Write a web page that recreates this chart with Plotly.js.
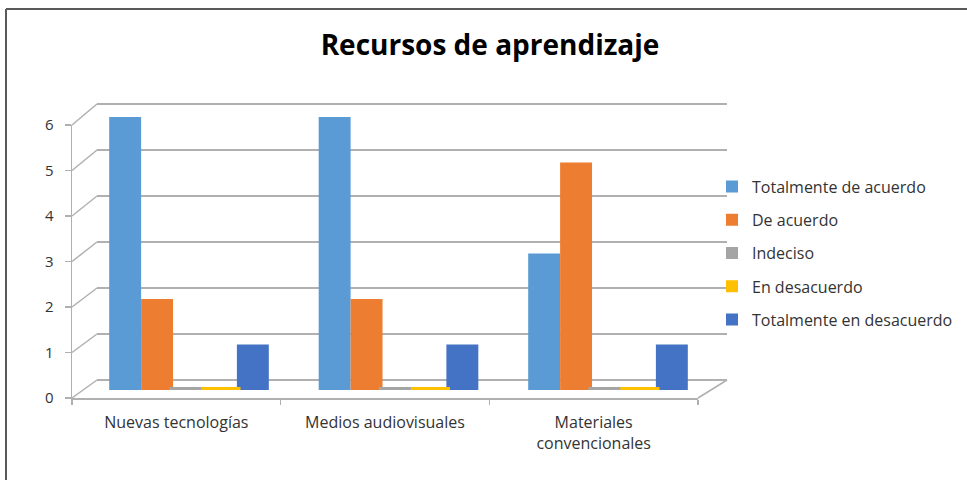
<!DOCTYPE html>
<html>
<head>
<meta charset="utf-8">
<script src="https://cdn.plot.ly/plotly-3.0.1.min.js"></script>
<style>html,body{margin:0;padding:0;background:#fff}#chart{width:967px;height:480px}</style>
</head>
<body>
<div id="chart"></div>
<script>
// ---- data ----
const categories = ['Nuevas tecnologías', 'Medios audiovisuales', 'Materiales convencionales'];
const categoryLabels = ['Nuevas tecnologías', 'Medios audiovisuales', 'Materiales<br>convencionales'];
const seriesNames = ['Totalmente de acuerdo', 'De acuerdo', 'Indeciso', 'En desacuerdo', 'Totalmente en desacuerdo'];
const totalmenteDeAcuerdo = [6, 6, 3];
const deAcuerdo = [2, 2, 5];
const indeciso = [0, 0, 0];
const enDesacuerdo = [0, 0, 0];
const totalmenteEnDesacuerdo = [1, 1, 1];
const yTicks = [0, 1, 2, 3, 4, 5, 6];
const seriesColors = ['#5B9BD5', '#ED7D31', '#A5A5A5', '#FFC000', '#4472C4'];

const seriesValues = [totalmenteDeAcuerdo, deAcuerdo, indeciso, enDesacuerdo, totalmenteEnDesacuerdo];

// ---- geometry helpers (pixel -> paper) ----
const W = 967, H = 480;
const px = v => v / W;
const py = v => 1 - v / H;
const FONT = 'Open Sans, Noto Sans, sans-serif';
const TXT = '#333333';
const GRID = '#B0B0B0';

const traces = [];
// empty trace to host the back-wall grid subplot (drawn first, behind the bars)
traces.push({type: 'scatter', x: [], y: [], xaxis: 'x', yaxis: 'y', showlegend: false, hoverinfo: 'skip'});
seriesValues.forEach((vals, i) => {
  traces.push({
    type: 'bar', name: seriesNames[i], x: categories, y: vals,
    xaxis: 'x2', yaxis: 'y2', offsetgroup: String(i), legendgroup: String(i),
    marker: {color: seriesColors[i]}, hoverinfo: 'x+y+name'
  });
});
// flat discs for zero values
seriesValues.forEach((vals, i) => {
  traces.push({
    type: 'scatter', mode: 'markers', name: seriesNames[i], x: categories,
    y: vals.map(v => v === 0 ? v : null),
    xaxis: 'x2', yaxis: 'y2', offsetgroup: String(i), legendgroup: String(i), showlegend: false,
    marker: {symbol: 'line-ew', size: 28, line: {width: 6, color: seriesColors[i]}},
    hoverinfo: 'skip'
  });
});
// empty trace to host front axes
traces.push({type: 'scatter', x: [], y: [], xaxis: 'x3', yaxis: 'y3', showlegend: false, hoverinfo: 'skip'});

// decorative 3D lines
const shapes = [];
const yFront = v => 398 - 45.5 * v;
const yBack = v => 380 - 46 * v;
yTicks.forEach(v => {
  shapes.push({type: 'line', xref: 'paper', yref: 'paper', layer: 'below',
    x0: px(72), y0: py(yFront(v)), x1: px(97), y1: py(yBack(v)),
    line: {color: GRID, width: 1.5}});
});
shapes.push({type: 'line', xref: 'paper', yref: 'paper', layer: 'below',
  x0: px(698), y0: py(398), x1: px(727), y1: py(380), line: {color: GRID, width: 1.5}});
// frame
shapes.push({type: 'line', xref: 'paper', yref: 'paper', x0: px(6), y0: py(9), x1: 1, y1: py(9), line: {color: '#5A5A5A', width: 2}});
shapes.push({type: 'line', xref: 'paper', yref: 'paper', x0: px(6), y0: py(9), x1: px(6), y1: 0, line: {color: '#5A5A5A', width: 2}});

const layout = {
  width: W, height: H, autosize: false,
  margin: {l: 0, r: 0, t: 0, b: 0, pad: 0},
  paper_bgcolor: '#fff', plot_bgcolor: 'rgba(0,0,0,0)',
  font: {family: FONT, color: TXT, size: 15},
  title: {text: '<b>Recursos de aprendizaje</b>', x: px(490), xanchor: 'center', y: py(45), yanchor: 'middle',
    font: {family: FONT, size: 28, color: '#000'}},
  barmode: 'group', bargap: 0.238, bargroupgap: 0,
  scattermode: 'group', scattergap: 0.238,
  showlegend: true,
  legend: {x: px(712), xanchor: 'left', y: py(253), yanchor: 'middle', traceorder: 'grouped',
    tracegroupgap: 9.5, font: {family: FONT, size: 16, color: TXT}, bgcolor: 'rgba(0,0,0,0)'},
  // back wall gridlines
  xaxis: {domain: [px(97), px(727)], range: [0, 1], showgrid: false, zeroline: false, showline: false,
    showticklabels: false, ticks: '', anchor: 'y', fixedrange: true},
  yaxis: {domain: [py(382.3), py(101.7)], range: [-0.05, 6.05], tickvals: yTicks, showgrid: true, gridcolor: GRID, gridwidth: 1.5,
    zeroline: false, showline: false, showticklabels: false, ticks: '', anchor: 'x', fixedrange: true},
  // bars
  xaxis2: {domain: [px(84.25), px(712.75)], type: 'category', showgrid: false, zeroline: false, showline: false,
    showticklabels: false, ticks: '', anchor: 'y2', fixedrange: true},
  yaxis2: {domain: [py(390), py(117)], range: [0, 6], showgrid: false, zeroline: false, showline: false,
    showticklabels: false, ticks: '', anchor: 'x2', fixedrange: true},
  // front axes
  xaxis3: {domain: [px(72), px(698)], range: [-0.5, 2.5], anchor: 'y3', showgrid: false, zeroline: false,
    showline: true, linecolor: GRID, linewidth: 1.5,
    tickvals: categories.map((c, i) => i), ticktext: categoryLabels, ticks: '', ticklabelstandoff: 9,
    minor: {tickvals: [-0.5, 0.5, 1.5, 2.5], ticks: 'outside', ticklen: 5, tickcolor: GRID, tickwidth: 1.5, showgrid: false},
    tickfont: {family: FONT, size: 16, color: TXT}, fixedrange: true},
  yaxis3: {domain: [py(398), py(125)], range: [0, 6], anchor: 'x3', tickvals: yTicks, showgrid: false, zeroline: false,
    showline: true, linecolor: GRID, linewidth: 1.5, ticks: 'outside', ticklen: 6, tickcolor: GRID, tickwidth: 1.5,
    ticklabelstandoff: 8, tickfont: {family: FONT, size: 15, color: TXT}, fixedrange: true},
  shapes: shapes
};

Plotly.newPlot('chart', traces, layout, {displayModeBar: false, staticPlot: true});
</script>
</body>
</html>
